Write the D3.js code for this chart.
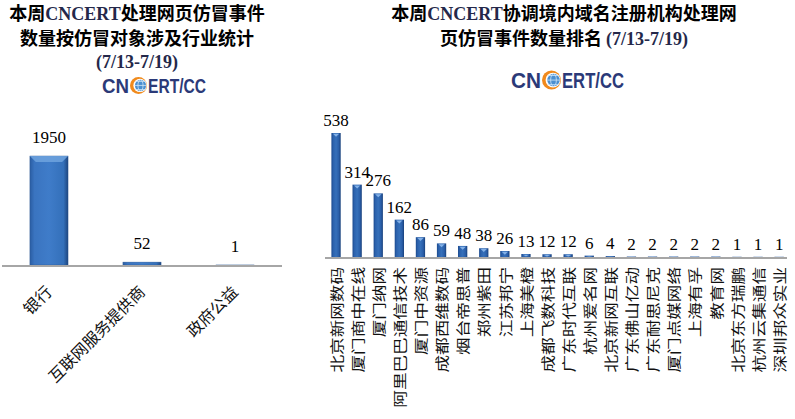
<!DOCTYPE html>
<html><head><meta charset="utf-8">
<script src="https://cdn.jsdelivr.net/npm/d3@7"></script>
<style>body{margin:0;background:#fff}svg{display:block}</style>
</head><body>
<script>
const leftCats = ["银行","互联网服务提供商","政府公益"];
const leftVals = [1950,52,1];
const rightCats = ["北京新网数码","厦门商中在线","厦门纳网","阿里巴巴通信技术","厦门中资源","成都西维数码","烟台帝思普","郑州紫田","江苏邦宁","上海美橙","成都飞数科技","广东时代互联","杭州爱名网","北京新网互联","广东佛山亿动","广东耐思尼克","厦门点媒网络","上海有孚","教育网","北京东方瑞鹏","杭州云集通信","深圳邦众实业"];
const rightVals = [538,314,276,162,86,59,48,38,26,13,12,12,6,4,2,2,2,2,2,1,1,1];
const leftTitle = [["本周","CNCERT","处理网页仿冒事件"],["数量按仿冒对象涉及行业统计"],["(7/13-7/19)"]];
const rightTitle = [["本周","CNCERT","协调境内域名注册机构处理网"],["页仿冒事件数量排名 ","(7/13-7/19)"]];

const W=795,H=419;
const svg=d3.select("body").append("svg").attr("width",W).attr("height",H);
const defs=svg.append("defs");
function grad(id,stops){
  const g=defs.append("linearGradient").attr("id",id).attr("x1","0").attr("x2","1").attr("y1","0").attr("y2","0");
  stops.forEach(s=>g.append("stop").attr("offset",s[0]).attr("stop-color",s[1]));
}
grad("gL",[[0,"#2a5da3"],[0.12,"#3a74c0"],[0.5,"#3f7cc9"],[0.88,"#3470ba"],[1,"#1d4680"]]);
grad("gR",[[0,"#1c4a8e"],[0.2,"#2c62ad"],[0.5,"#3670ba"],[0.8,"#2a5ea8"],[1,"#173f7a"]]);

const CJK='"Noto Sans CJK SC","Noto Sans",sans-serif';
const SERIF='"Liberation Serif","Times New Roman",serif';

function title(lines,cx,ys,fs){
  lines.forEach((parts,i)=>{
    const t=svg.append("text").attr("x",cx).attr("y",ys[i]).attr("text-anchor","middle")
      .attr("font-size",fs).attr("font-weight","bold");
    parts.forEach(p=>{
      const isLatin=/^[\x00-\x7f]+$/.test(p.trim());
      t.append("tspan").text(p)
        .attr("font-family",isLatin?SERIF:CJK)
        .attr("fill",isLatin?"#24284a":"#000");
    });
  });
}
title(leftTitle,137,[20,45,67.5],18);
title(rightTitle,564,[20,45],18);

function logo(x0,base,cnW,gR,ertW,fs){
  const g=svg.append("g");
  g.append("text").attr("x",x0).attr("y",base).text("CN").attr("font-family",'"Liberation Sans Narrow","Liberation Sans",sans-serif')
   .attr("font-weight","bold").attr("font-size",fs).attr("fill","#2b3a78").attr("textLength",cnW).attr("lengthAdjust","spacingAndGlyphs");
  const cx=x0+cnW+gR+1, cy=base-fs*0.36;
  g.append("circle").attr("cx",cx).attr("cy",cy).attr("r",gR).attr("fill","#f08a1c");
  g.append("circle").attr("cx",cx+1.5).attr("cy",cy).attr("r",gR*0.78).attr("fill","#fff");
  g.append("circle").attr("cx",cx+2).attr("cy",cy).attr("r",gR*0.66).attr("fill","#4a8fd0");
  [-0.3,0,0.3].forEach(k=>g.append("line").attr("x1",cx+2-gR*0.66).attr("x2",cx+2+gR*0.66).attr("y1",cy+k*gR*1.6).attr("y2",cy+k*gR*1.6).attr("stroke","#cfe6f8").attr("stroke-width",0.8));
  g.append("ellipse").attr("cx",cx+2).attr("cy",cy).attr("rx",gR*0.3).attr("ry",gR*0.66).attr("fill","none").attr("stroke","#cfe6f8").attr("stroke-width",0.8);
  g.append("text").attr("x",cx+gR+1).attr("y",base).text("ERT/CC").attr("font-family",'"Liberation Sans Narrow","Liberation Sans",sans-serif')
   .attr("font-weight","bold").attr("font-size",fs).attr("fill","#2b3a78").attr("textLength",ertW).attr("lengthAdjust","spacingAndGlyphs");
}
logo(102,93,27,8.5,58,21);
logo(511,88,30,9.5,62,22);

// ---------- left chart ----------
const xL=d3.scaleBand().domain(leftCats).range([2,282]).paddingInner(0.59).paddingOuter(0.3);
const yL=d3.scaleLinear().domain([0,1950]).range([265,156]);
const gl=svg.append("g");
gl.selectAll("rect.bar").data(leftVals).join("rect").attr("class","bar")
  .attr("x",(d,i)=>xL(leftCats[i])).attr("width",xL.bandwidth())
  .attr("y",d=>yL(d)).attr("height",d=>Math.max(yL(0)-yL(d),0.5))
  .attr("fill","url(#gL)").attr("stroke","#2a5590").attr("stroke-width",0.4);
gl.selectAll("path.bev").data(leftVals.filter(d=>yL(0)-yL(d)>10)).join("path").attr("class","bev")
  .attr("d",(d,i)=>{const x=xL(leftCats[i]),w=xL.bandwidth(),y=yL(d),b=6;
    return `M${x},${y}L${x+w},${y}L${x+w-b},${y+b}L${x+b},${y+b}Z`;})
  .attr("fill","#6ea3de").attr("opacity",0.85);
gl.append("line").attr("x1",2).attr("x2",282).attr("y1",yL(0)+1).attr("y2",yL(0)+1).attr("stroke","#a6a6a6").attr("stroke-width",2);
gl.selectAll("text.val").data(leftVals).join("text").attr("class","val")
  .attr("x",(d,i)=>xL(leftCats[i])+xL.bandwidth()/2).attr("y",d=>yL(d)-13)
  .attr("text-anchor","middle").attr("font-family",SERIF).attr("font-size",17).text(d=>d);
gl.selectAll("text.cat").data(leftCats).join("text").attr("class","cat")
  .attr("transform",d=>`translate(${xL(d)+xL.bandwidth()/2+4},${293}) rotate(-45)`)
  .attr("text-anchor","end").attr("font-family",CJK).attr("font-size",16).attr("fill","#111").text(d=>d);

// ---------- right chart ----------
const xR=d3.scaleBand().domain(rightCats).range([325.5,789.7]).paddingInner(0.56).paddingOuter(0.28);
const yR=d3.scaleLinear().domain([0,538]).range([257,133]);
const gr=svg.append("g");
gr.selectAll("rect.bar").data(rightVals).join("rect").attr("class","bar")
  .attr("x",(d,i)=>xR(rightCats[i])).attr("width",xR.bandwidth())
  .attr("y",d=>yR(d)).attr("height",d=>Math.max(yR(0)-yR(d),0.4))
  .attr("fill","url(#gR)");
gr.selectAll("path.bev").data(rightVals).join("path").attr("class","bev")
  .attr("d",(d,i)=>{const x=xR(rightCats[i]),w=xR.bandwidth(),y=yR(d),b=Math.min(3,(yR(0)-yR(d))/2);
    return `M${x+1.5},${y+0.8}L${x+w-1.5},${y+0.8}L${x+w/2},${y+0.8+b}Z`;})
  .attr("fill","#8cb8ec").attr("opacity",0.9);
gr.append("line").attr("x1",325).attr("x2",787).attr("y1",yR(0)+1).attr("y2",yR(0)+1).attr("stroke","#a6a6a6").attr("stroke-width",2);
gr.selectAll("text.val").data(rightVals).join("text").attr("class","val")
  .attr("x",(d,i)=>xR(rightCats[i])+xR.bandwidth()/2).attr("y",d=>yR(d)-7)
  .attr("text-anchor","middle").attr("font-family",SERIF).attr("font-size",17).text(d=>d);
gr.selectAll("text.cat").data(rightCats).join("text").attr("class","cat")
  .attr("transform",d=>`translate(${xR(d)+xR.bandwidth()/2},267) rotate(-90) scale(1,0.8)`)
  .attr("text-anchor","end").attr("dominant-baseline","central")
  .attr("font-family",CJK).attr("font-size",17.6).attr("fill","#111").text(d=>d);
</script>
</body></html>
